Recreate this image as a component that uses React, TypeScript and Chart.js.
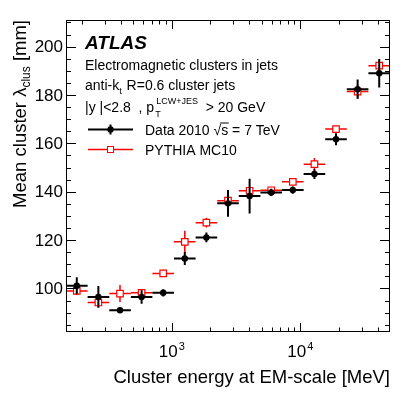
import React, { useEffect, useRef } from "react";
import { Chart, registerables } from "chart.js";

Chart.register(...registerables);

// ---- data ----
const binCenters = [182, 268, 395, 582, 857, 1262, 1859, 2739, 4034, 5943, 8754, 12896, 18995, 27980, 41215];
const binEdges = [150, 221, 326, 480, 706, 1040, 1532, 2257, 3324, 4897, 7213, 10625, 15651, 23054, 33958, 50000];
const dataMean = [101.1, 96.5, 91.0, 96.5, 98.2, 112.4, 121.1, 135.2, 138.2, 139.7, 140.7, 147.3, 161.7, 182.4, 189.0];
const dataErr = [3.5, 4.5, 1.0, 2.8, 1.5, 2.7, 2.0, 5.5, 7.2, 1.5, 1.5, 2.0, 2.5, 4.0, 5.9];
const mcMean = [99.0, 94.2, 97.9, 98.2, 106.2, 119.3, 127.2, 136.3, 140.4, 140.6, 144.1, 151.4, 165.9, 181.4, 192.1];
const mcErr = [1.6, 2.0, 3.5, 1.5, 1.5, 4.6, 2.0, 1.0, 1.0, 0.5, 1.0, 2.5, 1.0, 3.0, 2.0];

const yMajorTicks = [100, 120, 140, 160, 180, 200];
const yMinorTicks = [85, 90, 95, 105, 110, 115, 125, 130, 135, 145, 150, 155, 165, 170, 175, 185, 190, 195, 205, 210];
const xMajorTicks = [1000, 10000];
const xMajorLabels = ["3", "4"];
const xMinorTicks = [200, 300, 400, 500, 600, 700, 800, 900, 2000, 3000, 4000, 5000, 6000, 7000, 8000, 9000, 20000, 30000, 40000];

const FONT = "'Liberation Sans', Arial, Helvetica, sans-serif";
const RED = "#ff0000";

const errs = [dataErr, mcErr];
const errColors = ["#000000", RED];
const errWidths = [2, 1.5];

const errorBarPlugin = {
  id: "errorBars",
  beforeDatasetDraw(chart: any, args: any) {
    const i = args.index;
    const ctx = chart.ctx;
    const xs = chart.scales.x;
    const ys = chart.scales.y;
    const ds = chart.data.datasets[i];
    ctx.save();
    ctx.strokeStyle = errColors[i];
    ctx.lineWidth = errWidths[i];
    ds.data.forEach((p: any, k: number) => {
      const px = xs.getPixelForValue(p.x);
      const py = ys.getPixelForValue(p.y);
      const xl = xs.getPixelForValue(binEdges[k]);
      const xr = xs.getPixelForValue(binEdges[k + 1]);
      const yt = ys.getPixelForValue(p.y + errs[i][k]);
      const yb = ys.getPixelForValue(p.y - errs[i][k]);
      ctx.beginPath();
      ctx.moveTo(xl, py);
      ctx.lineTo(xr, py);
      ctx.moveTo(px, yt);
      ctx.lineTo(px, yb);
      ctx.stroke();
    });
    ctx.restore();
  },
};

const axesPlugin = {
  id: "rootAxes",
  afterDraw(chart: any) {
    const ctx = chart.ctx;
    const xs = chart.scales.x;
    const ys = chart.scales.y;
    const { left, right, top, bottom } = chart.chartArea;
    ctx.save();
    // frame
    ctx.strokeStyle = "#000";
    ctx.lineWidth = 1;
    ctx.strokeRect(left + 0.5, top + 0.5, right - left - 1, bottom - top - 1);

    ctx.beginPath();
    const yTick = (v: number, len: number) => {
      const y = Math.round(ys.getPixelForValue(v)) + 0.5;
      ctx.moveTo(left, y);
      ctx.lineTo(left + len, y);
      ctx.moveTo(right, y);
      ctx.lineTo(right - len, y);
    };
    const xTick = (v: number, len: number) => {
      const x = Math.round(xs.getPixelForValue(v)) + 0.5;
      ctx.moveTo(x, bottom);
      ctx.lineTo(x, bottom - len);
      ctx.moveTo(x, top);
      ctx.lineTo(x, top + len);
    };
    yMajorTicks.forEach((v) => yTick(v, 10));
    yMinorTicks.forEach((v) => yTick(v, 5));
    xMajorTicks.forEach((v) => xTick(v, 9));
    xMinorTicks.forEach((v) => xTick(v, 4.5));
    ctx.stroke();

    // y tick labels
    ctx.fillStyle = "#000";
    ctx.font = `17px ${FONT}`;
    ctx.textAlign = "right";
    ctx.textBaseline = "middle";
    yMajorTicks.forEach((v) => {
      ctx.fillText(String(v), left - 3, ys.getPixelForValue(v) + 1);
    });

    // x tick labels 10^n
    ctx.textBaseline = "alphabetic";
    ctx.textAlign = "left";
    xMajorTicks.forEach((v, k) => {
      ctx.font = `17px ${FONT}`;
      const w10 = ctx.measureText("10").width;
      ctx.font = `11px ${FONT}`;
      const wExp = ctx.measureText(xMajorLabels[k]).width;
      const x0 = xs.getPixelForValue(v) - (w10 + wExp + 1) / 2;
      ctx.font = `17px ${FONT}`;
      ctx.fillText("10", x0, 357);
      ctx.font = `11px ${FONT}`;
      ctx.fillText(xMajorLabels[k], x0 + w10 + 1, 350);
    });

    // x title
    ctx.font = `18.5px ${FONT}`;
    ctx.textAlign = "right";
    ctx.fillText("Cluster energy at EM-scale [MeV]", right, 383);

    // y title (rotated, with subscript)
    ctx.save();
    ctx.translate(26, top);
    ctx.rotate(-Math.PI / 2);
    ctx.textAlign = "left";
    ctx.font = `18.5px ${FONT}`;
    const t1 = "Mean cluster \u03bb";
    const t3 = " [mm]";
    const w1 = ctx.measureText(t1).width;
    const w3 = ctx.measureText(t3).width;
    ctx.font = `12px ${FONT}`;
    const w2 = ctx.measureText("clus").width;
    let x = -(w1 + w2 + w3);
    ctx.font = `18.5px ${FONT}`;
    ctx.fillText(t1, x, 0);
    x += w1;
    ctx.font = `12px ${FONT}`;
    ctx.fillText("clus", x, 4);
    x += w2;
    ctx.font = `18.5px ${FONT}`;
    ctx.fillText(t3, x, 0);
    ctx.restore();

    // annotations
    ctx.textAlign = "left";
    ctx.font = `italic bold 19px ${FONT}`;
    ctx.fillText("ATLAS", 85, 49);
    ctx.font = `14px ${FONT}`;
    ctx.fillText("Electromagnetic clusters in jets", 85, 70);
    // anti-k_t
    let ax = 85;
    ctx.fillText("anti-k", ax, 90);
    ax += ctx.measureText("anti-k").width;
    ctx.font = `9px ${FONT}`;
    ctx.fillText("t", ax, 94);
    ax += ctx.measureText("t").width + 1;
    ctx.font = `14px ${FONT}`;
    ctx.fillText(" R=0.6 cluster jets", ax, 90);
    // |y|<2.8, pT
    let bx = 85;
    const s1 = "|y |<2.8  , p";
    ctx.fillText(s1, bx, 112);
    bx += ctx.measureText(s1).width + 1;
    ctx.font = `9px ${FONT}`;
    ctx.fillText("LCW+JES", bx + 1, 104);
    ctx.fillText("T", bx, 117);
    bx += ctx.measureText("LCW+JES").width + 1;
    ctx.font = `14px ${FONT}`;
    ctx.fillText("  > 20 GeV", bx, 112);

    // legend
    const ds = chart.data.datasets;
    const lx0 = 88, lx1 = 133, lmx = 110.5;
    // data entry
    let ly = 129.5;
    ctx.strokeStyle = "#000";
    ctx.lineWidth = 2;
    ctx.beginPath();
    ctx.moveTo(lx0, ly);
    ctx.lineTo(lx1, ly);
    ctx.moveTo(lmx, ly - 5);
    ctx.lineTo(lmx, ly + 5);
    ctx.stroke();
    ctx.fillStyle = "#000";
    ctx.beginPath();
    ctx.arc(lmx, ly, 3.2, 0, Math.PI * 2);
    ctx.fill();
    ctx.font = `14px ${FONT}`;
    let tx = 145;
    const d1 = ds[0].label + " ";
    ctx.fillText(d1, tx, ly + 5);
    tx += ctx.measureText(d1).width;
    ctx.fillText("\u221a", tx, ly + 5);
    tx += ctx.measureText("\u221a").width;
    const ws = ctx.measureText("s").width;
    ctx.fillText("s", tx, ly + 5);
    ctx.lineWidth = 1;
    ctx.beginPath();
    ctx.moveTo(tx - 1, ly - 6.5);
    ctx.lineTo(tx + ws + 0.5, ly - 6.5);
    ctx.stroke();
    tx += ws;
    ctx.fillText(" = 7 TeV", tx, ly + 5);

    // MC entry
    ly = 149.5;
    ctx.strokeStyle = RED;
    ctx.lineWidth = 1.5;
    ctx.beginPath();
    ctx.moveTo(lx0, ly);
    ctx.lineTo(lx1, ly);
    ctx.stroke();
    ctx.fillStyle = "#fff";
    ctx.fillRect(lmx - 3, ly - 3, 6, 6);
    ctx.lineWidth = 1;
    ctx.strokeRect(lmx - 3, ly - 3, 6, 6);
    ctx.fillStyle = "#000";
    ctx.fillText(ds[1].label, 145, ly + 5);

    ctx.restore();
  },
};

export default function App() {
  const ref = useRef<HTMLCanvasElement>(null);
  useEffect(() => {
    document.body.style.margin = "0";
    const canvas = ref.current!;
    const chart = new Chart(canvas, {
      type: "scatter",
      data: {
        datasets: [
          {
            label: "Data 2010",
            data: binCenters.map((x, i) => ({ x, y: dataMean[i] })),
            pointStyle: "circle",
            pointRadius: 3.2,
            backgroundColor: "#000",
            borderColor: "#000",
            borderWidth: 0,
          },
          {
            label: "PYTHIA MC10",
            data: binCenters.map((x, i) => ({ x, y: mcMean[i] })),
            pointStyle: "rect",
            pointRadius: 4.6,
            backgroundColor: "#fff",
            borderColor: RED,
            borderWidth: 1.2,
          },
        ],
      },
      options: {
        animation: false,
        responsive: false,
        maintainAspectRatio: false,
        events: [],
        layout: { padding: { left: 66, top: 20, right: 21, bottom: 64 } },
        scales: {
          x: { type: "logarithmic", min: 150, max: 50000, display: false },
          y: { type: "linear", min: 82, max: 211, display: false },
        },
        plugins: {
          legend: { display: false },
          tooltip: { enabled: false },
        },
      },
      plugins: [errorBarPlugin, axesPlugin],
    } as any);
    return () => chart.destroy();
  }, []);
  return (
    <div style={{ position: "fixed", left: 0, top: 0, width: 411, height: 396, background: "#fff" }}>
      <canvas ref={ref} width={411} height={396} style={{ width: 411, height: 396, display: "block" }} />
    </div>
  );
}
